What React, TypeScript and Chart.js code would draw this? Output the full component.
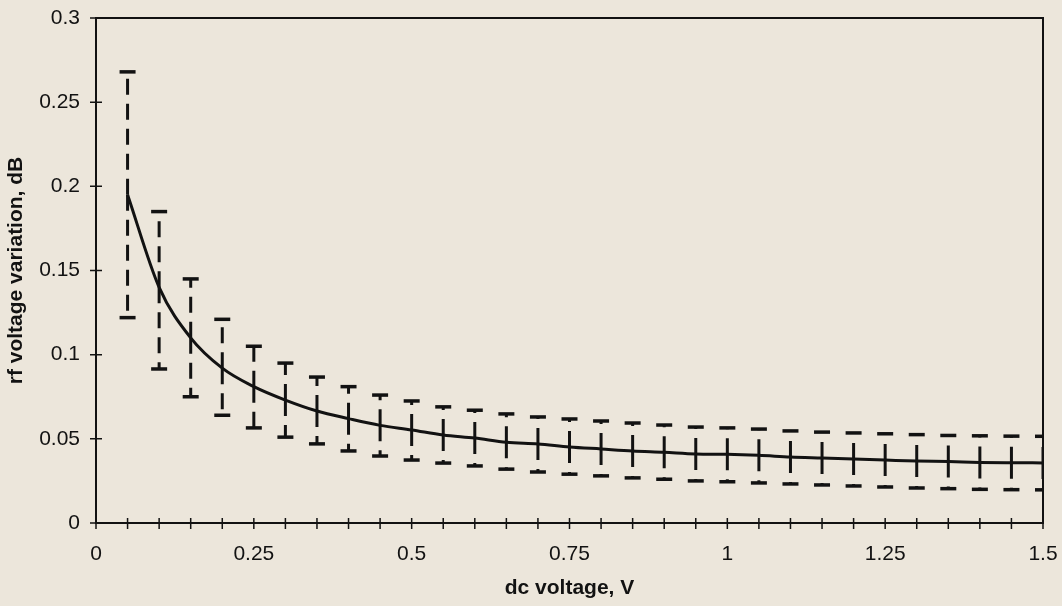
import React, { useEffect, useRef } from 'react';
import { Chart, registerables } from 'chart.js';

Chart.register(...registerables);

const xValues = [
  0.05, 0.1, 0.15, 0.2, 0.25, 0.3, 0.35, 0.4, 0.45, 0.5,
  0.55, 0.6, 0.65, 0.7, 0.75, 0.8, 0.85, 0.9, 0.95, 1.0,
  1.05, 1.1, 1.15, 1.2, 1.25, 1.3, 1.35, 1.4, 1.45, 1.5,
];

const meanValues = [
  0.195, 0.14, 0.11, 0.092, 0.081, 0.073, 0.0665, 0.062, 0.058, 0.0553,
  0.0523, 0.0505, 0.048, 0.047, 0.0452, 0.044, 0.0428, 0.042, 0.041, 0.0408,
  0.0402, 0.0392, 0.0386, 0.038, 0.0374, 0.0368, 0.0365, 0.036, 0.0358, 0.0357,
];

const upperValues = [
  0.268, 0.185, 0.145, 0.121, 0.105, 0.095, 0.0867, 0.081, 0.076, 0.0725,
  0.069, 0.067, 0.0648, 0.063, 0.0618, 0.0606, 0.0594, 0.0582, 0.057, 0.0565,
  0.0558, 0.0547, 0.054, 0.0535, 0.053, 0.0525, 0.052, 0.0518, 0.0516, 0.0515,
];

const lowerValues = [
  0.122, 0.0915, 0.075, 0.064, 0.0565, 0.051, 0.047, 0.0428, 0.0398, 0.0374,
  0.0356, 0.0339, 0.032, 0.0303, 0.029, 0.028, 0.0268, 0.026, 0.025, 0.0245,
  0.0238, 0.0232, 0.0226, 0.022, 0.0214, 0.0208, 0.0204, 0.02, 0.0198, 0.0197,
];

const xTickLabels = ['0', '0.25', '0.5', '0.75', '1', '1.25', '1.5'];
const yTickLabels = ['0', '0.05', '0.1', '0.15', '0.2', '0.25', '0.3'];

const xTitle = 'dc voltage, V';
const yTitle = 'rf voltage variation, dB';

const INK = '#121212';
const BG = '#ece6db';
const FONT = "'Liberation Sans', Arial, sans-serif";

function labelFor(list: string[], value: number): string {
  const hit = list.find((l) => Math.abs(Number(l) - value) < 1e-6);
  return hit === undefined ? '' : hit;
}

const frameAndTicks = {
  id: 'frameAndTicks',
  afterDatasetsDraw(chart: any) {
    const { ctx, chartArea, scales } = chart;
    const { left, right, top, bottom } = chartArea;
    ctx.save();
    ctx.strokeStyle = INK;
    ctx.lineWidth = 1.5;
    ctx.beginPath();
    scales.x.ticks.forEach((t: any) => {
      const px = scales.x.getPixelForValue(t.value);
      ctx.moveTo(px, bottom - 5);
      ctx.lineTo(px, bottom + 6);
    });
    scales.y.ticks.forEach((t: any) => {
      const py = scales.y.getPixelForValue(t.value);
      ctx.moveTo(left - 6, py);
      ctx.lineTo(left + 6, py);
    });
    ctx.stroke();
    ctx.lineWidth = 2;
    ctx.strokeRect(left, top, right - left, bottom - top);
    ctx.restore();
  },
};

export default function App() {
  const canvasRef = useRef<HTMLCanvasElement | null>(null);

  useEffect(() => {
    const canvas = canvasRef.current;
    if (!canvas) return;

    const datasets: any[] = [];
    datasets.push({
      type: 'line',
      data: xValues.map((x, i) => ({ x, y: meanValues[i] })),
      borderColor: INK,
      borderWidth: 3,
      pointRadius: 0,
      cubicInterpolationMode: 'monotone',
      fill: false,
    });
    xValues.forEach((x, i) => {
      datasets.push({
        type: 'line',
        data: [
          { x, y: meanValues[i] },
          { x, y: upperValues[i] },
        ],
        borderColor: INK,
        borderWidth: 3,
        borderDash: [16, 9],
        borderCapStyle: 'butt',
        pointRadius: 0,
        fill: false,
      });
      datasets.push({
        type: 'line',
        data: [
          { x, y: meanValues[i] },
          { x, y: lowerValues[i] },
        ],
        borderColor: INK,
        borderWidth: 3,
        borderDash: [16, 9],
        borderCapStyle: 'butt',
        pointRadius: 0,
        fill: false,
      });
    });
    datasets.push({
      type: 'scatter',
      data: [
        ...xValues.map((x, i) => ({ x, y: upperValues[i] })),
        ...xValues.map((x, i) => ({ x, y: lowerValues[i] })),
      ],
      pointStyle: 'line',
      pointRadius: 8,
      pointBorderWidth: 3.5,
      pointBorderColor: INK,
      pointBackgroundColor: INK,
      showLine: false,
      clip: 0,
    });

    const chart = new Chart(canvas, {
      type: 'scatter',
      data: { datasets },
      plugins: [frameAndTicks],
      options: {
        animation: false,
        responsive: false,
        events: [],
        layout: { padding: { top: 18, right: 19, left: 0, bottom: 0 } },
        plugins: {
          legend: { display: false },
          tooltip: { enabled: false },
        },
        scales: {
          x: {
            type: 'linear',
            min: 0,
            max: 1.5,
            grid: { display: false, drawTicks: true, tickLength: 6 },
            border: { display: false },
            ticks: {
              stepSize: 0.05,
              autoSkip: false,
              maxRotation: 0,
              padding: 13,
              color: INK,
              font: { family: FONT, size: 21 },
              callback: (v: any) => labelFor(xTickLabels, Number(v)),
            },
            title: {
              display: true,
              text: xTitle,
              color: INK,
              font: { family: FONT, size: 21, weight: 'bold' },
              padding: { top: 0, bottom: 5 },
            },
            afterFit: (scale: any) => {
              scale.height = 83;
              scale.paddingLeft = 0;
              scale.paddingRight = 0;
            },
          },
          y: {
            type: 'linear',
            min: 0,
            max: 0.3,
            grid: { display: false, drawTicks: true, tickLength: 6 },
            border: { display: false },
            ticks: {
              stepSize: 0.05,
              autoSkip: false,
              padding: 10,
              color: INK,
              font: { family: FONT, size: 21 },
              callback: (v: any) => labelFor(yTickLabels, Number(v)),
            },
            title: {
              display: true,
              text: yTitle,
              color: INK,
              font: { family: FONT, size: 21, weight: 'bold' },
              padding: { top: 4, bottom: 0 },
            },
            afterFit: (scale: any) => {
              scale.width = 96;
              scale.paddingTop = 0;
              scale.paddingBottom = 0;
            },
          },
        },
      } as any,
    });

    return () => {
      chart.destroy();
    };
  }, []);

  return (
    <div
      style={{
        position: 'fixed',
        left: 0,
        top: 0,
        width: 1062,
        height: 606,
        background: BG,
      }}
    >
      <canvas ref={canvasRef} width={1062} height={606} style={{ display: 'block' }} />
    </div>
  );
}
